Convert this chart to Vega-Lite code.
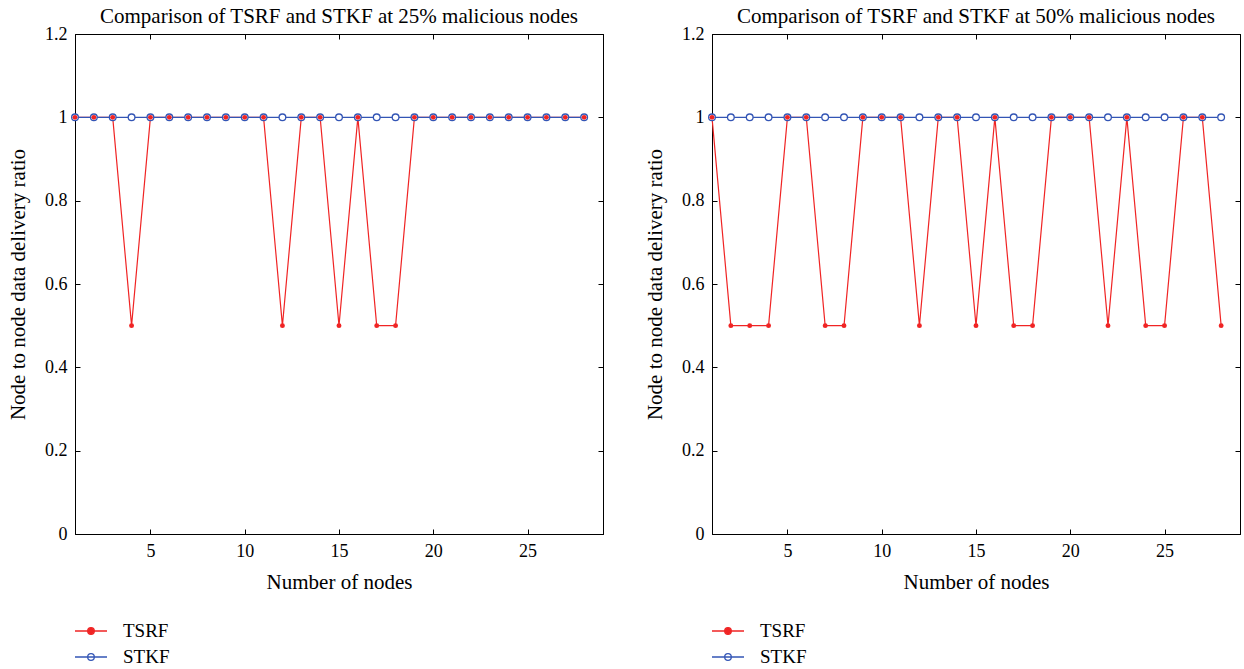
{
  "$schema": "https://vega.github.io/schema/vega-lite/v6.json",
  "background": "white",
  "padding": {"left": 7, "top": 5, "right": 0, "bottom": 0},
  "spacing": 40,
  "datasets": {
    "p25": [
      {"node": 1, "series": "TSRF", "ratio": 1}, {"node": 2, "series": "TSRF", "ratio": 1}, {"node": 3, "series": "TSRF", "ratio": 1}, {"node": 4, "series": "TSRF", "ratio": 0.5},
      {"node": 5, "series": "TSRF", "ratio": 1}, {"node": 6, "series": "TSRF", "ratio": 1}, {"node": 7, "series": "TSRF", "ratio": 1}, {"node": 8, "series": "TSRF", "ratio": 1},
      {"node": 9, "series": "TSRF", "ratio": 1}, {"node": 10, "series": "TSRF", "ratio": 1}, {"node": 11, "series": "TSRF", "ratio": 1}, {"node": 12, "series": "TSRF", "ratio": 0.5},
      {"node": 13, "series": "TSRF", "ratio": 1}, {"node": 14, "series": "TSRF", "ratio": 1}, {"node": 15, "series": "TSRF", "ratio": 0.5}, {"node": 16, "series": "TSRF", "ratio": 1},
      {"node": 17, "series": "TSRF", "ratio": 0.5}, {"node": 18, "series": "TSRF", "ratio": 0.5}, {"node": 19, "series": "TSRF", "ratio": 1}, {"node": 20, "series": "TSRF", "ratio": 1},
      {"node": 21, "series": "TSRF", "ratio": 1}, {"node": 22, "series": "TSRF", "ratio": 1}, {"node": 23, "series": "TSRF", "ratio": 1}, {"node": 24, "series": "TSRF", "ratio": 1},
      {"node": 25, "series": "TSRF", "ratio": 1}, {"node": 26, "series": "TSRF", "ratio": 1}, {"node": 27, "series": "TSRF", "ratio": 1}, {"node": 28, "series": "TSRF", "ratio": 1},
      {"node": 1, "series": "STKF", "ratio": 1}, {"node": 2, "series": "STKF", "ratio": 1}, {"node": 3, "series": "STKF", "ratio": 1}, {"node": 4, "series": "STKF", "ratio": 1},
      {"node": 5, "series": "STKF", "ratio": 1}, {"node": 6, "series": "STKF", "ratio": 1}, {"node": 7, "series": "STKF", "ratio": 1}, {"node": 8, "series": "STKF", "ratio": 1},
      {"node": 9, "series": "STKF", "ratio": 1}, {"node": 10, "series": "STKF", "ratio": 1}, {"node": 11, "series": "STKF", "ratio": 1}, {"node": 12, "series": "STKF", "ratio": 1},
      {"node": 13, "series": "STKF", "ratio": 1}, {"node": 14, "series": "STKF", "ratio": 1}, {"node": 15, "series": "STKF", "ratio": 1}, {"node": 16, "series": "STKF", "ratio": 1},
      {"node": 17, "series": "STKF", "ratio": 1}, {"node": 18, "series": "STKF", "ratio": 1}, {"node": 19, "series": "STKF", "ratio": 1}, {"node": 20, "series": "STKF", "ratio": 1},
      {"node": 21, "series": "STKF", "ratio": 1}, {"node": 22, "series": "STKF", "ratio": 1}, {"node": 23, "series": "STKF", "ratio": 1}, {"node": 24, "series": "STKF", "ratio": 1},
      {"node": 25, "series": "STKF", "ratio": 1}, {"node": 26, "series": "STKF", "ratio": 1}, {"node": 27, "series": "STKF", "ratio": 1}, {"node": 28, "series": "STKF", "ratio": 1}
    ],
    "p50": [
      {"node": 1, "series": "TSRF", "ratio": 1}, {"node": 2, "series": "TSRF", "ratio": 0.5}, {"node": 3, "series": "TSRF", "ratio": 0.5}, {"node": 4, "series": "TSRF", "ratio": 0.5},
      {"node": 5, "series": "TSRF", "ratio": 1}, {"node": 6, "series": "TSRF", "ratio": 1}, {"node": 7, "series": "TSRF", "ratio": 0.5}, {"node": 8, "series": "TSRF", "ratio": 0.5},
      {"node": 9, "series": "TSRF", "ratio": 1}, {"node": 10, "series": "TSRF", "ratio": 1}, {"node": 11, "series": "TSRF", "ratio": 1}, {"node": 12, "series": "TSRF", "ratio": 0.5},
      {"node": 13, "series": "TSRF", "ratio": 1}, {"node": 14, "series": "TSRF", "ratio": 1}, {"node": 15, "series": "TSRF", "ratio": 0.5}, {"node": 16, "series": "TSRF", "ratio": 1},
      {"node": 17, "series": "TSRF", "ratio": 0.5}, {"node": 18, "series": "TSRF", "ratio": 0.5}, {"node": 19, "series": "TSRF", "ratio": 1}, {"node": 20, "series": "TSRF", "ratio": 1},
      {"node": 21, "series": "TSRF", "ratio": 1}, {"node": 22, "series": "TSRF", "ratio": 0.5}, {"node": 23, "series": "TSRF", "ratio": 1}, {"node": 24, "series": "TSRF", "ratio": 0.5},
      {"node": 25, "series": "TSRF", "ratio": 0.5}, {"node": 26, "series": "TSRF", "ratio": 1}, {"node": 27, "series": "TSRF", "ratio": 1}, {"node": 28, "series": "TSRF", "ratio": 0.5},
      {"node": 1, "series": "STKF", "ratio": 1}, {"node": 2, "series": "STKF", "ratio": 1}, {"node": 3, "series": "STKF", "ratio": 1}, {"node": 4, "series": "STKF", "ratio": 1},
      {"node": 5, "series": "STKF", "ratio": 1}, {"node": 6, "series": "STKF", "ratio": 1}, {"node": 7, "series": "STKF", "ratio": 1}, {"node": 8, "series": "STKF", "ratio": 1},
      {"node": 9, "series": "STKF", "ratio": 1}, {"node": 10, "series": "STKF", "ratio": 1}, {"node": 11, "series": "STKF", "ratio": 1}, {"node": 12, "series": "STKF", "ratio": 1},
      {"node": 13, "series": "STKF", "ratio": 1}, {"node": 14, "series": "STKF", "ratio": 1}, {"node": 15, "series": "STKF", "ratio": 1}, {"node": 16, "series": "STKF", "ratio": 1},
      {"node": 17, "series": "STKF", "ratio": 1}, {"node": 18, "series": "STKF", "ratio": 1}, {"node": 19, "series": "STKF", "ratio": 1}, {"node": 20, "series": "STKF", "ratio": 1},
      {"node": 21, "series": "STKF", "ratio": 1}, {"node": 22, "series": "STKF", "ratio": 1}, {"node": 23, "series": "STKF", "ratio": 1}, {"node": 24, "series": "STKF", "ratio": 1},
      {"node": 25, "series": "STKF", "ratio": 1}, {"node": 26, "series": "STKF", "ratio": 1}, {"node": 27, "series": "STKF", "ratio": 1}, {"node": 28, "series": "STKF", "ratio": 1}
    ]
  },
  "hconcat": [
    {
      "width": 528, "height": 500,
      "data": {"name": "p25"},
      "title": {"text": "Comparison of TSRF and STKF at 25% malicious nodes", "fontSize": 21, "font": "Liberation Serif", "fontWeight": "normal", "offset": -2, "color": "black"},
      "resolve": {"axis": {"x": "independent", "y": "independent"}},
      "layer": [
        {
          "transform": [{"filter": "datum.series === 'TSRF'"}],
          "mark": {"type": "line", "strokeWidth": 1.2},
          "encoding": {
            "x": {"field": "node", "type": "quantitative", "scale": {"domain": [1, 29], "nice": false, "zero": false},
              "axis": {"orient": "bottom", "values": [5, 10, 15, 20, 25], "tickSize": -5, "labelPadding": 13, "title": "Number of nodes", "titlePadding": 11}},
            "y": {"field": "ratio", "type": "quantitative", "scale": {"domain": [0, 1.2], "nice": false, "zero": false},
              "axis": {"orient": "left", "values": [0, 0.2, 0.4, 0.6, 0.8, 1, 1.2], "format": "~g", "tickSize": -5, "labelPadding": 13, "title": "Node to node data delivery ratio", "titlePadding": 16}},
            "color": {"field": "series", "type": "nominal", "scale": {"domain": ["TSRF", "STKF"], "range": ["#f02424", "#3355b5"]},
              "legend": {"orient": "none", "legendX": 5, "legendY": 586, "title": null,
                "symbolType": "M-1.6,0H1.6M0.33,0A0.33,0.33,0,1,1,-0.33,0A0.33,0.33,0,1,1,0.33,0Z",
                "symbolSize": 400, "symbolStrokeWidth": 1.3, "labelFontSize": 19, "labelFont": "Liberation Serif", "labelColor": "black", "labelOffset": 21, "rowPadding": 5,
                "encode": {"symbols": {"update": {"fill": {"signal": "datum.value === 'TSRF' ? '#f02424' : 'white'"}}}}}}
          }
        },
        {
          "transform": [{"filter": "datum.series === 'STKF'"}],
          "mark": {"type": "line", "strokeWidth": 1.2},
          "encoding": {
            "x": {"field": "node", "type": "quantitative", "axis": null},
            "y": {"field": "ratio", "type": "quantitative", "axis": null},
            "color": {"field": "series", "type": "nominal"}
          }
        },
        {
          "transform": [{"filter": "datum.series === 'STKF'"}],
          "mark": {"type": "point", "shape": "circle", "size": 45, "fill": "white", "stroke": "#3355b5", "strokeWidth": 1.3, "opacity": 1},
          "encoding": {
            "x": {"field": "node", "type": "quantitative", "axis": null},
            "y": {"field": "ratio", "type": "quantitative", "axis": null}
          }
        },
        {
          "transform": [{"filter": "datum.series === 'TSRF'"}],
          "mark": {"type": "point", "shape": "circle", "size": 24, "filled": true, "color": "#f02424", "opacity": 1},
          "encoding": {
            "x": {"field": "node", "type": "quantitative", "axis": null},
            "y": {"field": "ratio", "type": "quantitative", "axis": null}
          }
        },
        {
          "mark": {"type": "point", "opacity": 0},
          "encoding": {
            "x": {"field": "node", "type": "quantitative", "axis": {"orient": "top", "values": [5, 10, 15, 20, 25], "tickSize": -5, "labels": false, "title": null}},
            "y": {"field": "ratio", "type": "quantitative", "axis": {"orient": "right", "values": [0, 0.2, 0.4, 0.6, 0.8, 1, 1.2], "tickSize": -5, "labels": false, "title": null}}
          }
        }
      ]
    },
    {
      "width": 528, "height": 500,
      "data": {"name": "p50"},
      "title": {"text": "Comparison of TSRF and STKF at 50% malicious nodes", "fontSize": 21, "font": "Liberation Serif", "fontWeight": "normal", "offset": -2, "color": "black"},
      "resolve": {"axis": {"x": "independent", "y": "independent"}},
      "layer": [
        {
          "transform": [{"filter": "datum.series === 'TSRF'"}],
          "mark": {"type": "line", "strokeWidth": 1.2},
          "encoding": {
            "x": {"field": "node", "type": "quantitative", "scale": {"domain": [1, 29], "nice": false, "zero": false},
              "axis": {"orient": "bottom", "values": [5, 10, 15, 20, 25], "tickSize": -5, "labelPadding": 13, "title": "Number of nodes", "titlePadding": 11}},
            "y": {"field": "ratio", "type": "quantitative", "scale": {"domain": [0, 1.2], "nice": false, "zero": false},
              "axis": {"orient": "left", "values": [0, 0.2, 0.4, 0.6, 0.8, 1, 1.2], "format": "~g", "tickSize": -5, "labelPadding": 13, "title": "Node to node data delivery ratio", "titlePadding": 16}},
            "color": {"field": "series", "type": "nominal", "scale": {"domain": ["TSRF", "STKF"], "range": ["#f02424", "#3355b5"]},
              "legend": {"orient": "none", "legendX": 5, "legendY": 586, "title": null,
                "symbolType": "M-1.6,0H1.6M0.33,0A0.33,0.33,0,1,1,-0.33,0A0.33,0.33,0,1,1,0.33,0Z",
                "symbolSize": 400, "symbolStrokeWidth": 1.3, "labelFontSize": 19, "labelFont": "Liberation Serif", "labelColor": "black", "labelOffset": 21, "rowPadding": 5,
                "encode": {"symbols": {"update": {"fill": {"signal": "datum.value === 'TSRF' ? '#f02424' : 'white'"}}}}}}
          }
        },
        {
          "transform": [{"filter": "datum.series === 'STKF'"}],
          "mark": {"type": "line", "strokeWidth": 1.2},
          "encoding": {
            "x": {"field": "node", "type": "quantitative", "axis": null},
            "y": {"field": "ratio", "type": "quantitative", "axis": null},
            "color": {"field": "series", "type": "nominal"}
          }
        },
        {
          "transform": [{"filter": "datum.series === 'STKF'"}],
          "mark": {"type": "point", "shape": "circle", "size": 45, "fill": "white", "stroke": "#3355b5", "strokeWidth": 1.3, "opacity": 1},
          "encoding": {
            "x": {"field": "node", "type": "quantitative", "axis": null},
            "y": {"field": "ratio", "type": "quantitative", "axis": null}
          }
        },
        {
          "transform": [{"filter": "datum.series === 'TSRF'"}],
          "mark": {"type": "point", "shape": "circle", "size": 24, "filled": true, "color": "#f02424", "opacity": 1},
          "encoding": {
            "x": {"field": "node", "type": "quantitative", "axis": null},
            "y": {"field": "ratio", "type": "quantitative", "axis": null}
          }
        },
        {
          "mark": {"type": "point", "opacity": 0},
          "encoding": {
            "x": {"field": "node", "type": "quantitative", "axis": {"orient": "top", "values": [5, 10, 15, 20, 25], "tickSize": -5, "labels": false, "title": null}},
            "y": {"field": "ratio", "type": "quantitative", "axis": {"orient": "right", "values": [0, 0.2, 0.4, 0.6, 0.8, 1, 1.2], "tickSize": -5, "labels": false, "title": null}}
          }
        }
      ]
    }
  ],
  "resolve": {"scale": {"color": "independent"}, "legend": {"color": "independent"}},
  "config": {
    "font": "Liberation Serif",
    "view": {"stroke": "black", "strokeWidth": 1},
    "axis": {"grid": false, "domainColor": "black", "domainWidth": 1, "tickColor": "black", "tickWidth": 1,
      "labelFont": "Liberation Serif", "labelFontSize": 18, "labelColor": "black",
      "titleFont": "Liberation Serif", "titleFontSize": 21, "titleFontWeight": "normal", "titleColor": "black"}
  }
}
